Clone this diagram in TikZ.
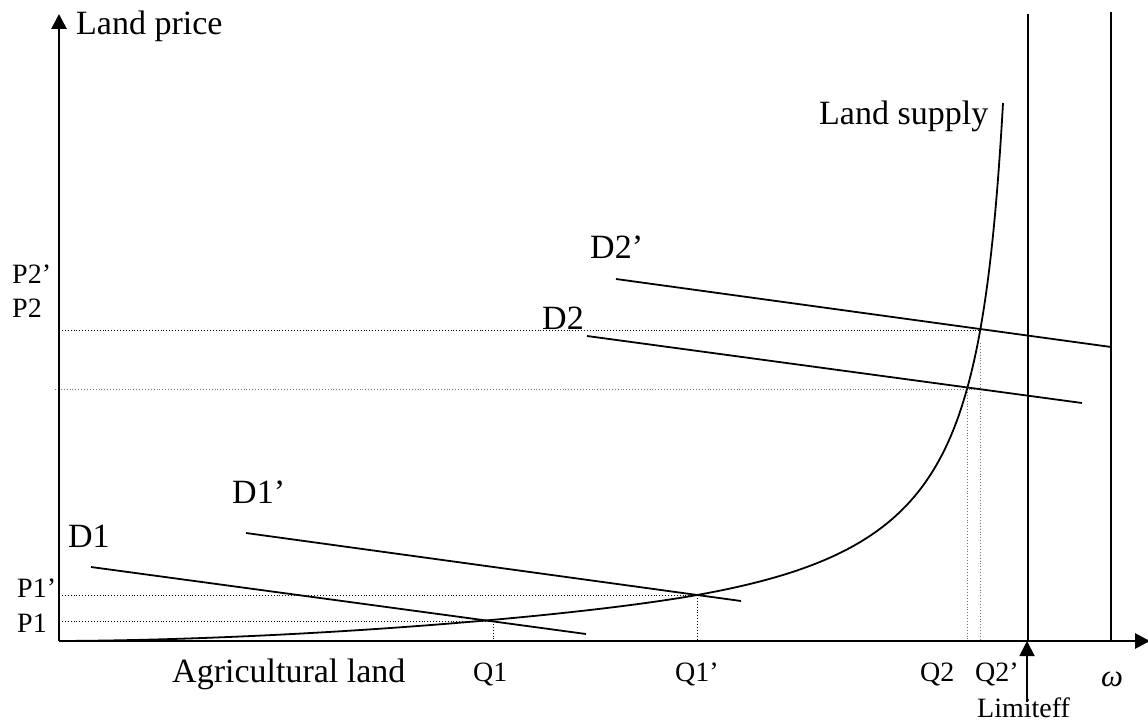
\documentclass[tikz,border=0pt]{standalone}
\usepackage{fontspec}
\setmainfont{Liberation Serif}
\usetikzlibrary{arrows.meta}
\tikzset{
  axisline/.style={line width=2.8pt},
  demand/.style={line width=1.8pt},
  limitline/.style={line width=1.8pt},
  guide/.style={line width=0.9pt, dotted},
  guidegray/.style={line width=0.9pt, dotted, black!55},
  big/.style={font=\fontsize{34}{40}\selectfont, inner sep=0pt, anchor=base west},
  small/.style={font=\fontsize{28}{33}\selectfont, inner sep=0pt, anchor=base west},
  tip/.style={-{Triangle[length=15pt,width=15pt]}}
}
\begin{document}
\begin{tikzpicture}[x=1pt,y=-1pt]
\useasboundingbox (0,0) rectangle (1148,722);
\clip (0,0) rectangle (1148,722);
% key coordinates
\coordinate (O) at (59,641);
\coordinate (ytip) at (59,14);
\coordinate (xtip) at (1150,641);
\coordinate (E1) at (493,621);
\coordinate (E1p) at (697,595);
\coordinate (E2) at (967,389);
\coordinate (E2p) at (981,330);
\coordinate (top) at (1003,103);
% guide lines
\draw[guide] (59,621) -- (E1);
\draw[guide] (E1) -- (493,641);
\draw[guide] (59,595) -- (E1p);
\draw[guide] (E1p) -- (697,641);
\draw[guide] (59,330) -- (E2p);
\draw[guidegray] (55,389) -- (977,389);
\draw[guidegray] (E2) -- (967,641);
\draw[guidegray] (980,343) -- (980,641);
% limit lines
\coordinate (L1t) at (1028,14);
\coordinate (L1b) at (1028,641);
\coordinate (L2t) at (1111,12);
\coordinate (L2b) at (1111,641);
\draw[limitline] (L1t) -- (L1b);
\draw[limitline] (L2t) -- (L2b);
% demand lines
\coordinate (d1a) at (91,567);   \coordinate (d1b) at (586,634);
\coordinate (d1pa) at (246,533); \coordinate (d1pb) at (741,601);
\coordinate (d2a) at (587,336);  \coordinate (d2b) at (1082,403);
\coordinate (d2pa) at (616,279); \coordinate (d2pb) at (1111,347);
\draw[demand] (d1a) -- (d1b);
\draw[demand] (d1pa) -- (d1pb);
\draw[demand] (d2a) -- (d2b);
\draw[demand] (d2pa) -- (d2pb);
% supply curve
\draw[line width=1.8pt] (O) .. controls (300,640) and (580,616) .. (E1p)
  .. controls (865,565) and (932.5,513) .. (E2)
  .. controls (984.4,326.5) and (995.2,240.7) .. (top);
% axes
\draw[axisline, tip] (O) -- (ytip);
\draw[axisline, tip] (O) -- (xtip);
% Limiteff arrow
\coordinate (limbase) at (1027,702);
\draw[line width=1.8pt, tip] (limbase) -- (1027,641);
% labels
\node[big] (lp) at (76,35) {Land price};
\node[big] (ls) at (819,125) {Land supply};
\node[big] (ld2p) at (590,258) {D2’};
\node[big] (ld2) at (542,329) {D2};
\node[big] (ld1p) at (232,503) {D1’};
\node[big] (ld1) at (68,547) {D1};
\node[big] (al) at (172,682) {Agricultural land};
\node[small] (p2p) at (12,283) {P2’};
\node[small] (p2) at (12,317) {P2};
\node[small] (p1p) at (17,597) {P1’};
\node[small] (p1) at (17,632) {P1};
\node[small] (q1) at (473,681) {Q1};
\node[small] (q1p) at (675,681) {Q1’};
\node[small] (q2) at (920,681) {Q2};
\node[small] (q2p) at (975,681) {Q2’};
\node[small] (lim) at (977,717) {Limiteff};
\node[font=\fontsize{31}{36}\selectfont\itshape, inner sep=0pt, anchor=base west] (om) at (1101,686) {ω};
\end{tikzpicture}
\end{document}
